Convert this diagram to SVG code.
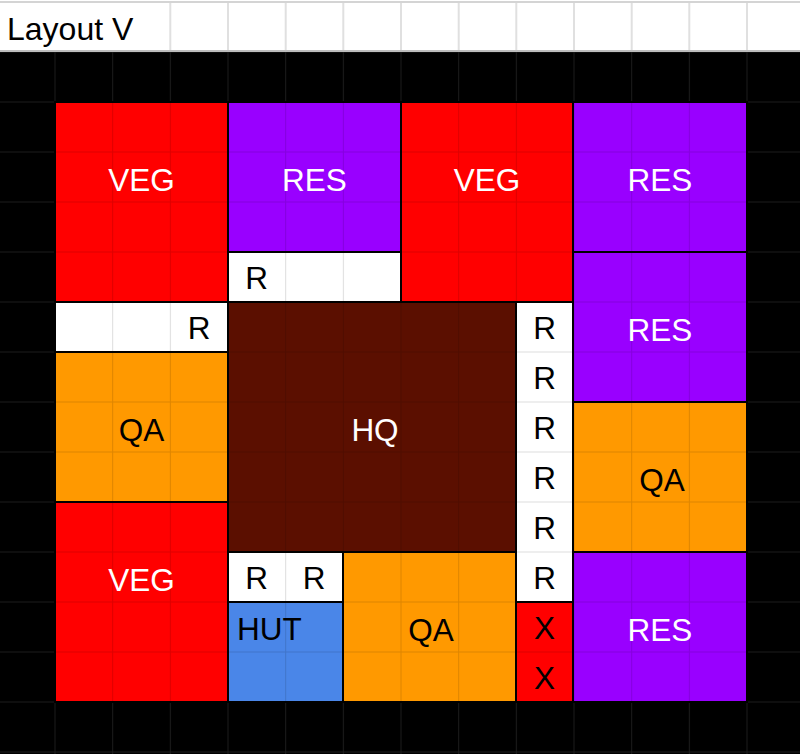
<svg xmlns="http://www.w3.org/2000/svg" width="800" height="754" viewBox="0 0 800 754">
<style>
.veg{fill:#ff0000}.res{fill:#9900ff}.qa{fill:#ff9900}.hq{fill:#5b0f00}.hut{fill:#4a86e8}.w{fill:#ffffff}
.bd{fill:none;stroke:#000;stroke-width:2}
.g{fill:url(#gl)}
text{font-family:"Liberation Sans",Arial,sans-serif;font-size:31.5px}
.lt{fill:#fff;text-anchor:middle}
.dk{fill:#000;text-anchor:middle}
.hs{stroke:#e0e0e0;stroke-width:2}
</style>
<defs>
<pattern id="gl" patternUnits="userSpaceOnUse" x="54.5" y="1.5" width="57.667" height="50">
<rect x="0" y="0" width="1" height="50" fill="rgba(0,0,0,0.13)"/>
<rect x="1" y="0" width="56.667" height="1" fill="rgba(0,0,0,0.13)"/>
</pattern>
<pattern id="gd" patternUnits="userSpaceOnUse" x="54.5" y="1.5" width="57.667" height="50">
<rect x="0" y="0" width="1" height="50" fill="#1c1c1c"/>
<rect x="1" y="0" width="56.667" height="1" fill="#1c1c1c"/>
</pattern>
</defs>
<g id="header">
<rect x="0" y="0" width="800" height="52" fill="#fff"/>
<line x1="0" y1="2" x2="800" y2="2" stroke="#d4d4d4" stroke-width="2"/>
<line x1="0" y1="51" x2="800" y2="51" stroke="#bdbdbd" stroke-width="2"/>
<g class="hs">
<line x1="170.3" y1="3" x2="170.3" y2="50"/><line x1="228" y1="3" x2="228" y2="50"/><line x1="285.7" y1="3" x2="285.7" y2="50"/><line x1="343.3" y1="3" x2="343.3" y2="50"/><line x1="401" y1="3" x2="401" y2="50"/><line x1="458.7" y1="3" x2="458.7" y2="50"/><line x1="516.3" y1="3" x2="516.3" y2="50"/><line x1="574" y1="3" x2="574" y2="50"/><line x1="631.7" y1="3" x2="631.7" y2="50"/><line x1="689.3" y1="3" x2="689.3" y2="50"/><line x1="747" y1="3" x2="747" y2="50"/>
</g>
<text x="7" y="40" style="font-size:32px" fill="#000">Layout V</text>
</g>
<g id="background">
<rect x="0" y="52" width="800" height="702" fill="#000"/>
<rect x="0" y="52" width="800" height="702" fill="url(#gd)"/>
</g>
<g id="veg1"><rect class="veg" x="55" y="102" width="173" height="200"/><rect class="g" x="55" y="102" width="173" height="200"/><rect class="bd" x="55" y="102" width="173" height="200"/><text class="lt" x="141.5" y="191">VEG</text></g>
<g id="res1"><rect class="res" x="228" y="102" width="173" height="150"/><rect class="g" x="228" y="102" width="173" height="150"/><rect class="bd" x="228" y="102" width="173" height="150"/><text class="lt" x="314.5" y="191">RES</text></g>
<g id="road1"><rect class="w" x="228" y="252" width="173" height="50"/><rect class="g" x="228" y="252" width="173" height="50"/><rect class="bd" x="228" y="252" width="173" height="50"/><text class="dk" x="256.5" y="289">R</text></g>
<g id="veg2"><rect class="veg" x="401" y="102" width="172" height="200"/><rect class="g" x="401" y="102" width="172" height="200"/><rect class="bd" x="401" y="102" width="172" height="200"/><text class="lt" x="487" y="191">VEG</text></g>
<g id="res2"><rect class="res" x="573" y="102" width="174" height="150"/><rect class="g" x="573" y="102" width="174" height="150"/><rect class="bd" x="573" y="102" width="174" height="150"/><text class="lt" x="660" y="191">RES</text></g>
<g id="res3"><rect class="res" x="573" y="252" width="174" height="150"/><rect class="g" x="573" y="252" width="174" height="150"/><rect class="bd" x="573" y="252" width="174" height="150"/><text class="lt" x="660" y="341">RES</text></g>
<g id="road2"><rect class="w" x="55" y="302" width="173" height="50"/><rect class="g" x="55" y="302" width="173" height="50"/><rect class="bd" x="55" y="302" width="173" height="50"/><text class="dk" x="199" y="339">R</text></g>
<g id="hq"><rect class="hq" x="228" y="302" width="288" height="250"/><rect class="g" x="228" y="302" width="288" height="250"/><rect class="bd" x="228" y="302" width="288" height="250"/><text class="lt" x="375" y="441">HQ</text></g>
<g id="road3"><rect class="w" x="516" y="302" width="57" height="300"/><rect class="g" x="516" y="302" width="57" height="300"/><rect class="bd" x="516" y="302" width="57" height="300"/>
<text class="dk" x="544.5" y="339">R</text><text class="dk" x="544.5" y="389">R</text><text class="dk" x="544.5" y="439">R</text><text class="dk" x="544.5" y="489">R</text><text class="dk" x="544.5" y="539">R</text><text class="dk" x="544.5" y="589">R</text></g>
<g id="qa1"><rect class="qa" x="55" y="352" width="173" height="150"/><rect class="g" x="55" y="352" width="173" height="150"/><rect class="bd" x="55" y="352" width="173" height="150"/><text class="dk" x="141.5" y="441">QA</text></g>
<g id="qa2"><rect class="qa" x="573" y="402" width="174" height="150"/><rect class="g" x="573" y="402" width="174" height="150"/><rect class="bd" x="573" y="402" width="174" height="150"/><text class="dk" x="662" y="491">QA</text></g>
<g id="veg3"><rect class="veg" x="55" y="502" width="173" height="200"/><rect class="g" x="55" y="502" width="173" height="200"/><rect class="bd" x="55" y="502" width="173" height="200"/><text class="lt" x="141.5" y="591">VEG</text></g>
<g id="road4"><rect class="w" x="228" y="552" width="115" height="50"/><rect class="g" x="228" y="552" width="115" height="50"/><rect class="bd" x="228" y="552" width="115" height="50"/><text class="dk" x="256.5" y="589">R</text><text class="dk" x="314" y="589">R</text></g>
<g id="hut"><rect class="hut" x="228" y="602" width="115" height="100"/><rect class="g" x="228" y="602" width="115" height="100"/><rect class="bd" x="228" y="602" width="115" height="100"/><text x="237" y="640" fill="#000">HUT</text></g>
<g id="qa3"><rect class="qa" x="343" y="552" width="173" height="150"/><rect class="g" x="343" y="552" width="173" height="150"/><rect class="bd" x="343" y="552" width="173" height="150"/><text class="dk" x="431" y="641">QA</text></g>
<g id="x"><rect class="veg" x="516" y="602" width="57" height="100"/><rect class="g" x="516" y="602" width="57" height="100"/><rect class="bd" x="516" y="602" width="57" height="100"/><text class="dk" x="544.5" y="639">X</text><text class="dk" x="544.5" y="689">X</text></g>
<g id="res4"><rect class="res" x="573" y="552" width="174" height="150"/><rect class="g" x="573" y="552" width="174" height="150"/><rect class="bd" x="573" y="552" width="174" height="150"/><text class="lt" x="660" y="641">RES</text></g>
</svg>
